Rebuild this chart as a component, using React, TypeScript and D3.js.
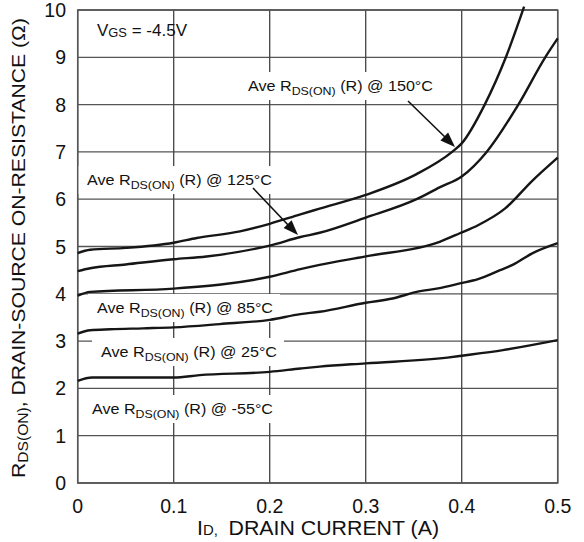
import React from "react";
import * as d3 from "d3";

// ---------- data ----------
const xTicks = [0, 0.1, 0.2, 0.3, 0.4, 0.5];
const xTickLabels = ["0", "0.1", "0.2", "0.3", "0.4", "0.5"];
const yTicks = [0, 1, 2, 3, 4, 5, 6, 7, 8, 9, 10];
const yTickLabels = ["0", "1", "2", "3", "4", "5", "6", "7", "8", "9", "10"];

const id150 = [0, 0.013, 0.05, 0.1, 0.124, 0.169, 0.2, 0.232, 0.252, 0.3, 0.353, 0.39, 0.4, 0.424, 0.446, 0.465];
const r150 = [4.86, 4.93, 4.97, 5.08, 5.18, 5.32, 5.48, 5.68, 5.8, 6.09, 6.53, 7.0, 7.18, 8.0, 9.0, 10.07];

const id125 = [0, 0.013, 0.05, 0.1, 0.134, 0.2, 0.232, 0.252, 0.3, 0.353, 0.377, 0.4, 0.426, 0.459, 0.487, 0.5];
const r125 = [4.48, 4.54, 4.62, 4.73, 4.79, 5.02, 5.2, 5.29, 5.61, 6.0, 6.25, 6.48, 7.0, 8.0, 9.0, 9.4];

const id85 = [0, 0.013, 0.1, 0.2, 0.232, 0.252, 0.3, 0.377, 0.398, 0.417, 0.445, 0.474, 0.5];
const r85 = [3.96, 4.04, 4.11, 4.36, 4.52, 4.61, 4.79, 5.1, 5.28, 5.45, 5.8, 6.4, 6.88];

const id25 = [0, 0.013, 0.034, 0.068, 0.1, 0.148, 0.2, 0.232, 0.252, 0.3, 0.328, 0.353, 0.377, 0.398, 0.417, 0.44, 0.453, 0.474, 0.5];
const r25 = [3.16, 3.23, 3.25, 3.27, 3.29, 3.36, 3.45, 3.57, 3.62, 3.81, 3.9, 4.04, 4.12, 4.22, 4.31, 4.5, 4.61, 4.86, 5.07];

const idm55 = [0, 0.015, 0.1, 0.127, 0.2, 0.232, 0.252, 0.3, 0.385, 0.4, 0.443, 0.5];
const rm55 = [2.16, 2.23, 2.23, 2.28, 2.35, 2.42, 2.46, 2.53, 2.65, 2.69, 2.81, 3.02];

const seriesX = [id150, id125, id85, id25, idm55];
const seriesY = [r150, r125, r85, r25, rm55];
const seriesTemps = ["150°C", "125°C", "85°C", "25°C", "-55°C"];

// ---------- layout ----------
const W = 584;
const H = 542;
const L = 77.7;
const R = 557.7;
const T = 10;
const B = 483;
const FONT = "'Liberation Sans', Arial, Helvetica, sans-serif";

// label placements (x start, baseline, width)
const labelPos = [
  { x: 248, y: 91, w: 185 },
  { x: 87, y: 185, w: 185 },
  { x: 97, y: 313, w: 176 },
  { x: 101, y: 357, w: 176 },
  { x: 92, y: 414, w: 181 },
];

const arrows = [
  { x1: 408, y1: 101, x2: 455, y2: 147 },
  { x1: 253, y1: 188, x2: 298, y2: 235 },
];

export default function App() {
  const x = d3.scaleLinear().domain([0, 0.5]).range([L, R]);
  const y = d3.scaleLinear().domain([0, 10]).range([B, T]);
  const line = d3
    .line<[number, number]>()
    .x((d) => x(d[0]))
    .y((d) => y(d[1]))
    .curve(d3.curveMonotoneX);

  const arrowHead = (a: { x1: number; y1: number; x2: number; y2: number }) => {
    const ang = Math.atan2(a.y2 - a.y1, a.x2 - a.x1);
    const len = 15;
    const half = 5.5;
    const bx = a.x2 - len * Math.cos(ang);
    const by = a.y2 - len * Math.sin(ang);
    const px = -Math.sin(ang) * half;
    const py = Math.cos(ang) * half;
    return `M${a.x2},${a.y2} L${bx + px},${by + py} L${bx - px},${by - py} Z`;
  };

  return (
    <svg
      width={W}
      height={H}
      style={{ position: "absolute", left: 0, top: 0, background: "#fff" }}
      fontFamily={FONT}
    >
      <rect x={0} y={0} width={W} height={H} fill="#fff" />
      {/* grid */}
      {yTicks.map((t) => (
        <line key={"gy" + t} x1={L} x2={R} y1={y(t)} y2={y(t)} stroke="#555" strokeWidth={1.3} />
      ))}
      {xTicks.map((t) => (
        <line key={"gx" + t} x1={x(t)} x2={x(t)} y1={T} y2={B} stroke="#444" strokeWidth={1.3} />
      ))}
      {/* label boxes */}
      {labelPos.map((p, i) => (
        <rect key={"bx" + i} x={p.x - 9} y={p.y - 19} width={p.w + 16} height={28} fill="#fff" />
      ))}
      <rect x={L} y={T} width={R - L} height={B - T} fill="none" stroke="#555" strokeWidth={1.5} />
      {/* curves */}
      {seriesX.map((xs, i) => (
        <path
          key={"s" + i}
          d={line(xs.map((v, j) => [v, seriesY[i][j]] as [number, number])) || ""}
          fill="none"
          stroke="#161616"
          strokeWidth={2.4}
          strokeLinejoin="round"
        />
      ))}
      {/* labels */}
      {labelPos.map((p, i) => (
        <text key={"lb" + i} x={p.x} y={p.y} fontSize={15} fill="#111" textLength={p.w} lengthAdjust="spacingAndGlyphs">
          <tspan>Ave R</tspan>
          <tspan fontSize={11.5} dy={4}>DS(ON)</tspan>
          <tspan dy={-4}>{" (R) @ " + seriesTemps[i]}</tspan>
        </text>
      ))}
      {arrows.map((a, i) => (
        <g key={"ar" + i}>
          <line x1={a.x1} y1={a.y1} x2={a.x2 - 8} y2={a.y2 - 8} stroke="#111" strokeWidth={1.6} />
          <path d={arrowHead(a)} fill="#111" />
        </g>
      ))}
      {/* VGS */}
      <text x={97} y={36} fontSize={16.5} fill="#111" textLength={90} lengthAdjust="spacingAndGlyphs">
        <tspan>V</tspan>
        <tspan fontSize={12.5} dy={1}>GS</tspan>
        <tspan dy={-1}> = -4.5V</tspan>
      </text>
      {/* y ticks */}
      {yTicks.map((t, i) => (
        <text key={"yt" + t} x={66} y={y(t) + 7} fontSize={19.5} textAnchor="end" fill="#111">
          {yTickLabels[i]}
        </text>
      ))}
      {/* x ticks */}
      {xTicks.map((t, i) => (
        <text key={"xt" + t} x={x(t)} y={513} fontSize={19.5} textAnchor="middle" fill="#111">
          {xTickLabels[i]}
        </text>
      ))}
      {/* x title */}
      <text x={197} y={535} fontSize={20} fill="#111" textLength={242} lengthAdjust="spacingAndGlyphs">
        <tspan>I</tspan>
        <tspan fontSize={14} dy={0}>D,</tspan>
        <tspan dx={10}>DRAIN CURRENT (A)</tspan>
      </text>
      {/* y title */}
      <text
        transform={`translate(25,${(478 + 18) / 2}) rotate(-90)`}
        x={0}
        y={0}
        fontSize={19}
        textAnchor="middle"
        fill="#111"
        textLength={460}
        lengthAdjust="spacingAndGlyphs"
      >
        <tspan>R</tspan>
        <tspan fontSize={14} dy={3}>DS(ON)</tspan>
        <tspan dy={-3}>, DRAIN-SOURCE ON-RESISTANCE (Ω)</tspan>
      </text>
    </svg>
  );
}
